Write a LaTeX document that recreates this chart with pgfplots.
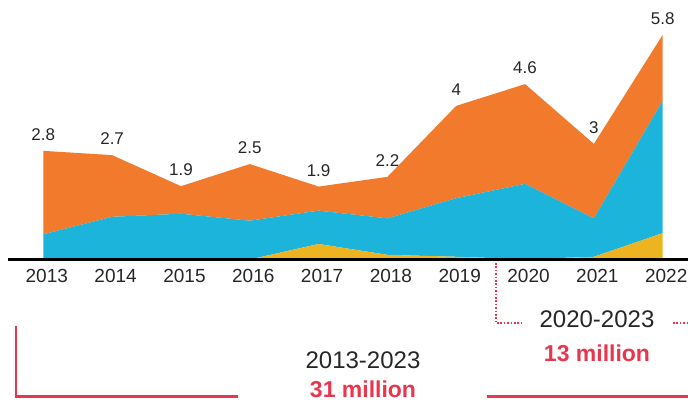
\documentclass[border=0pt]{standalone}
\usepackage{fontspec}
\setmainfont{Liberation Sans}
\usepackage{pgfplots}
\pgfplotsset{compat=1.18}
\definecolor{cOr}{HTML}{F27A2C}
\definecolor{cBl}{HTML}{1DB4DC}
\definecolor{cYe}{HTML}{ECB421}
\definecolor{cRd}{HTML}{E8364F}
\definecolor{cTx}{HTML}{262626}
\begin{document}
\begin{tikzpicture}[x=1bp,y=1bp]
\useasboundingbox (0,0) rectangle (688,401);
\begin{axis}[
  at={(8bp,141.5bp)}, anchor=south west,
  scale only axis, width=680bp, height=259.5bp,
  xmin=2012.487, xmax=2022.368, ymin=0, ymax=6.688,
  axis x line=bottom, axis y line=none,
  axis line style={-, line width=2.4bp, black},
  xtick={2013,2014,2015,2016,2017,2018,2019,2020,2021,2022},
  xticklabels={2013,2014,2015,2016,2017,2018,2019,2020,2021,2022},
  major tick length=0pt,
  xticklabel style={font=\fontsize{19bp}{19bp}\selectfont, text=cTx, anchor=north, inner sep=0pt, yshift=-10bp, xshift=3.5bp},
  stack plots=y,
  axis on top,
  clip=false,
]
\addplot[fill=cYe, draw=none] coordinates {(2013,0) (2014,0) (2015,0) (2016,0) (2017,0.40) (2018,0.12) (2019,0.07) (2020,0.01) (2021,0.07) (2022,0.68)} \closedcycle;
\addplot[fill=cBl, draw=none] coordinates {(2013,0.65) (2014,1.10) (2015,1.18) (2016,1.00) (2017,0.86) (2018,0.94) (2019,1.51) (2020,1.94) (2021,0.99) (2022,3.41)} \closedcycle;
\addplot[fill=cOr, draw=none] coordinates {(2013,2.15) (2014,1.59) (2015,0.71) (2016,1.46) (2017,0.62) (2018,1.07) (2019,2.38) (2020,2.57) (2021,1.92) (2022,1.70)} \closedcycle;
\tikzset{vl/.style={font=\fontsize{17bp}{17bp}\selectfont, text=cTx, anchor=south, inner sep=0pt, yshift=10bp}}
\node[vl] at (axis cs:2013,2.80) {2.8};
\node[vl] at (axis cs:2014,2.69) {2.7};
\node[vl] at (axis cs:2015,1.89) {1.9};
\node[vl] at (axis cs:2016,2.46) {2.5};
\node[vl] at (axis cs:2017,1.88) {1.9};
\node[vl] at (axis cs:2018,2.13) {2.2};
\node[vl] at (axis cs:2019,3.96) {4};
\node[vl] at (axis cs:2020,4.52) {4.6};
\node[vl] at (axis cs:2021,2.98) {3};
\node[vl] at (axis cs:2022,5.79) {5.8};
\end{axis}
% dotted bracket 2020-2023
\draw[cRd, line width=2bp, dash pattern=on 1.6bp off 1.8bp] (496,138) -- (496,77.7) -- (524,77.7);
\draw[cRd, line width=2bp, dash pattern=on 1.6bp off 1.8bp] (673,77.7) -- (688,77.7);
\node[font=\fontsize{24bp}{24bp}\selectfont, text=cTx, anchor=base, inner sep=0pt] at (597,73.7) {2020-2023};
\node[font=\fontsize{23bp}{23bp}\selectfont\bfseries, text=cRd, anchor=base, inner sep=0pt] at (597,39.3) {13 million};
% solid bracket 2013-2023
\draw[cRd, line width=2.6bp] (16,75) -- (16,4.3) -- (238.3,4.3);
\draw[cRd, line width=2.6bp] (486.7,4.3) -- (688,4.3);
\node[font=\fontsize{24bp}{24bp}\selectfont, text=cTx, anchor=base, inner sep=0pt] at (363,33) {2013-2023};
\node[font=\fontsize{23bp}{23bp}\selectfont\bfseries, text=cRd, anchor=base, inner sep=0pt] at (363,3.5) {31 million};
\end{tikzpicture}
\end{document}
